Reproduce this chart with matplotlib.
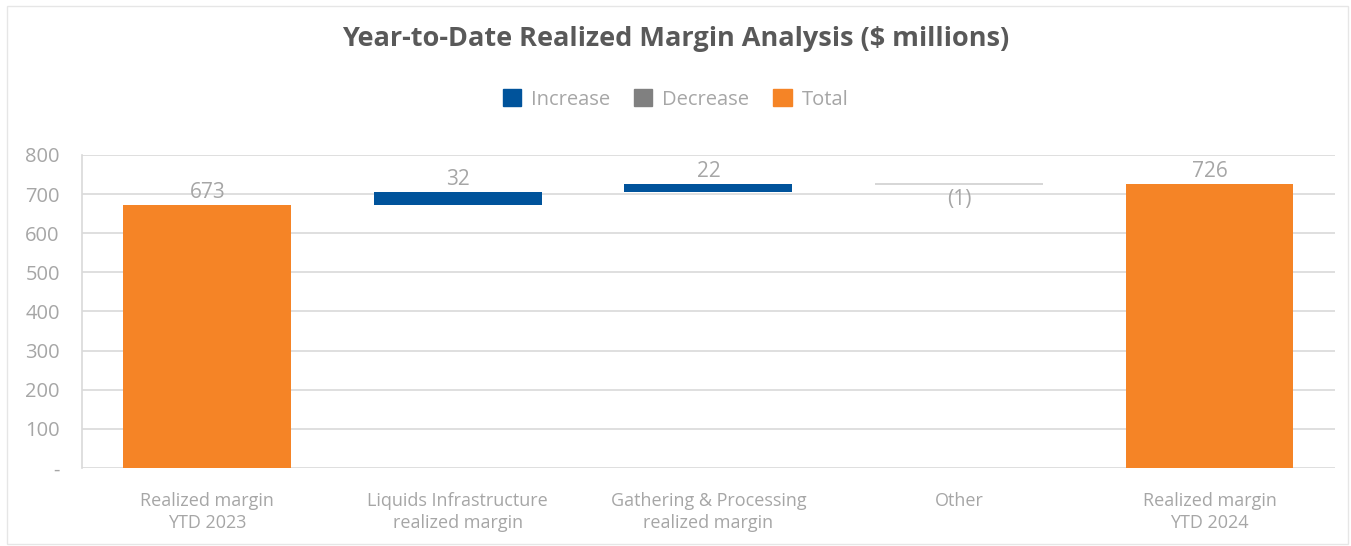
import numpy as np
import matplotlib.pyplot as plt
from matplotlib.patches import Patch

categories = ["Realized margin\nYTD 2023", "Liquids Infrastructure\nrealized margin",
              "Gathering & Processing\nrealized margin", "Other", "Realized margin\nYTD 2024"]
changes = [673, 32, 22, -1, 726]
kinds = ["total", "inc", "inc", "dec", "total"]
value_labels = ["673", "32", "22", "(1)", "726"]
yticks = [0, 100, 200, 300, 400, 500, 600, 700, 800]
ytick_labels = ["-", "100", "200", "300", "400", "500", "600", "700", "800"]

colors = {"inc": "#00539b", "dec": "#808080", "total": "#f58426"}
text_gray = "#a6a6a6"

plt.rcParams['font.family'] = ['Open Sans', 'DejaVu Sans']

fig = plt.figure(figsize=(13.51, 5.46), dpi=100)
ax = fig.add_axes([0.0607, 0.1429, 0.9273, 0.5733])

x = np.arange(len(categories))
running = 0
for i, (v, k) in enumerate(zip(changes, kinds)):
    if k == "total":
        bottom, height = 0, v
        running = v
    else:
        bottom = running if v > 0 else running + v
        height = abs(v)
        running += v
    if k == "dec":
        ax.bar(x[i], height, bottom=bottom, width=0.67, color="#d0d0d0",
               edgecolor="#d0d0d0", linewidth=1.2, zorder=3)
        ax.text(x[i], bottom - 14, value_labels[i], ha="center", va="top",
                fontsize=15, color=text_gray)
    else:
        ax.bar(x[i], height, bottom=bottom, width=0.67, color=colors[k], zorder=3)
        ax.text(x[i], bottom + height + 5, value_labels[i], ha="center", va="bottom",
                fontsize=15, color=text_gray)

ax.set_xlim(-0.5, len(categories) - 0.5)
ax.set_ylim(0, 800)
ax.set_yticks(yticks)
ax.set_yticklabels(ytick_labels)
ax.set_xticks(x)
ax.set_xticklabels(categories, linespacing=1.35)
ax.tick_params(axis="y", length=0, labelsize=14.5, labelcolor=text_gray, pad=16)
ax.tick_params(axis="x", length=0, labelsize=13, labelcolor=text_gray, pad=17)
ax.grid(axis="y", color="#d9d9d9", linewidth=1.2, zorder=0)
for s in ["top", "right", "bottom"]:
    ax.spines[s].set_visible(False)
ax.spines["left"].set_color("#d9d9d9")
ax.spines["left"].set_linewidth(1.2)

fig.text(0.5, 0.928, "Year-to-Date Realized Margin Analysis ($ millions)", ha="center",
         va="center", fontsize=19.5, fontweight="bold", color="#595959")

handles = [Patch(color=colors["inc"], label="Increase"),
           Patch(color=colors["dec"], label="Decrease"),
           Patch(color=colors["total"], label="Total")]
leg = fig.legend(handles=handles, loc="center", bbox_to_anchor=(0.5, 0.818), ncol=3,
                 frameon=False, fontsize=14.5, handlelength=0.9, handleheight=0.9,
                 handletextpad=0.5, columnspacing=1.2, labelcolor=text_gray)

fig.patches.append(plt.Rectangle((0.005, 0.004), 0.993, 0.985, transform=fig.transFigure,
                                 fill=False, edgecolor="#e6e6e6", linewidth=1))

fig.savefig("out.png", dpi=100)
